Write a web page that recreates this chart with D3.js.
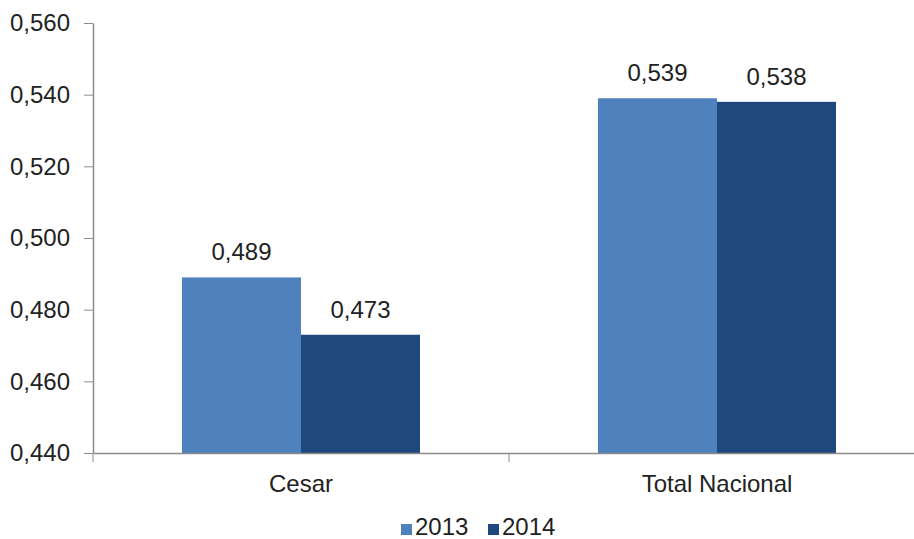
<!DOCTYPE html>
<html lang="es">
<head>
    <meta charset="UTF-8">
    <title>Cesar vs Total Nacional</title>
    <script src="https://cdn.jsdelivr.net/npm/d3@7"></script>
    <style>
        body { margin: 0; background: #fff; }
        text { font-family: "Liberation Sans", Arial, sans-serif; fill: #222; }
        .axis path, .axis line { stroke: #8c8c8c; }
    </style>
</head>
<body>
<svg id="chart" width="914" height="539"></svg>
<script>
    // Data
    const categories = ["Cesar", "Total Nacional"];
    const series = ["2013", "2014"];
    const values2013 = [0.489, 0.539];
    const values2014 = [0.473, 0.538];
    const yTicks = [0.44, 0.46, 0.48, 0.50, 0.52, 0.54, 0.56];
    const colors = ["#4f81bd", "#1f497d"];

    const svg = d3.select("#chart");
    const fontSize = 24;

    const plotLeft = 93, plotRight = 925, plotTop = 23, plotBottom = 453;

    const locale = d3.formatLocale({ decimal: ",", thousands: ".", grouping: [3], currency: ["$", ""] });
    const fmt = locale.format(".3f");

    const x = d3.scaleBand().domain(categories).range([plotLeft, plotRight]).padding(0);
    const xs = d3.scaleBand().domain(series).range([0, x.bandwidth()]).paddingInner(0).paddingOuter(0.748);
    const y = d3.scaleLinear().domain([0.44, 0.56]).range([plotBottom, plotTop]);

    const rows = categories.map((c, i) => ({ cat: c, vals: [values2013[i], values2014[i]] }));

    // bars
    const groups = svg.selectAll(".grp").data(rows).enter().append("g")
        .attr("transform", d => `translate(${x(d.cat)},0)`);

    groups.selectAll("rect")
        .data(d => d.vals.map((v, j) => ({ s: series[j], v: v, j: j })))
        .enter().append("rect")
        .attr("x", d => xs(d.s))
        .attr("y", d => y(d.v))
        .attr("width", xs.bandwidth())
        .attr("height", d => plotBottom - y(d.v))
        .attr("fill", d => colors[d.j]);

    groups.selectAll(".lbl")
        .data(d => d.vals.map((v, j) => ({ s: series[j], v: v })))
        .enter().append("text")
        .attr("x", d => xs(d.s) + xs.bandwidth() / 2)
        .attr("y", d => y(d.v) - 17)
        .attr("text-anchor", "middle")
        .style("font-size", fontSize + "px")
        .text(d => fmt(d.v));

    // y axis
    const yAxis = svg.append("g").attr("class", "axis")
        .attr("transform", `translate(${plotLeft},0)`)
        .call(d3.axisLeft(y).tickValues(yTicks).tickFormat(fmt).tickSize(9).tickSizeOuter(0).tickPadding(14));
    yAxis.selectAll("text").style("font-size", fontSize + "px").attr("fill", "#222");
    yAxis.select(".domain").attr("stroke-width", 1.5);

    // x axis
    const xAxis = svg.append("g").attr("class", "axis")
        .attr("transform", `translate(0,${plotBottom})`)
        .call(d3.axisBottom(x).tickSize(0).tickSizeOuter(0).tickPadding(22));
    xAxis.selectAll("text").style("font-size", fontSize + "px").attr("fill", "#222");
    xAxis.select(".domain").attr("stroke-width", 1.5);

    // boundary ticks between categories
    xAxis.selectAll(".bound")
        .data(categories)
        .enter().append("line")
        .attr("x1", d => x(d)).attr("x2", d => x(d))
        .attr("y1", 0).attr("y2", 9)
        .attr("stroke", "#8c8c8c");

    // legend (sits at the very bottom edge, as in the original)
    const legend = svg.append("g").attr("transform", "translate(401,535)");
    const legendX = d3.scaleOrdinal().domain(series).range([0, 87]);
    const items = legend.selectAll("g").data(series).enter().append("g")
        .attr("transform", d => `translate(${legendX(d)},0)`);
    items.append("rect")
        .attr("x", 0).attr("y", -11).attr("width", 11).attr("height", 11)
        .attr("fill", (d, i) => colors[i]);
    items.append("text")
        .attr("x", 14).attr("y", 0)
        .style("font-size", fontSize + "px")
        .text(d => d);
</script>
</body>
</html>
